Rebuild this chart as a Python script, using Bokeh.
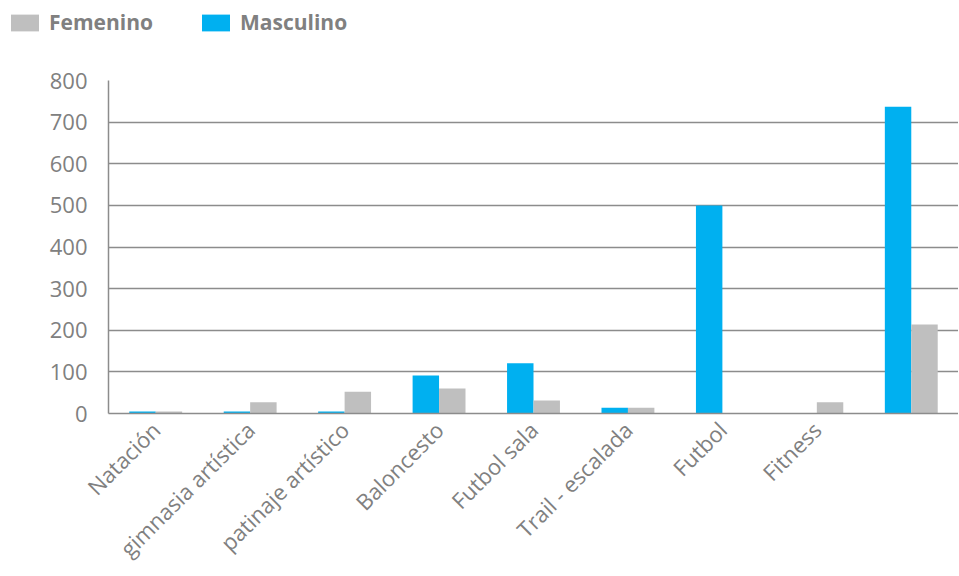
import math
from bokeh.plotting import figure
from bokeh.layouts import column
from bokeh.models import FactorRange, Range1d, Legend, LegendItem, ColumnDataSource, FixedTicker
from bokeh.transform import dodge
from bokeh.embed import file_html
from bokeh.resources import INLINE

categories = ["Natación", "gimnasia artística", "patinaje artístico", "Baloncesto",
              "Futbol sala", "Trail - escalada", "Futbol", "Fitness", " "]
masculino = [5, 5, 5, 91, 121, 14, 500, 0, 737]
femenino = [5, 27, 52, 60, 31, 14, 0, 27, 214]
y_ticks = [0, 100, 200, 300, 400, 500, 600, 700, 800]
series_names = ["Femenino", "Masculino"]

BLUE = "#00B0F0"
GREY = "#BFBFBF"
TEXT = "#808080"
LINE = "#8C8C8C"
FONT = "Open Sans"

src = ColumnDataSource(dict(cat=categories, masc=masculino, fem=femenino))

# ---- legend strip (swatch renderers sit outside the visible range) ----
lg = figure(width=958, height=45, output_backend="svg", toolbar_location=None,
            x_range=Range1d(0, 1), y_range=Range1d(0, 1),
            x_axis_type=None, y_axis_type=None,
            min_border_left=0, min_border_right=0, min_border_top=0, min_border_bottom=0)
lg.frame_align = False
lg.outline_line_color = None
lg.xgrid.grid_line_color = None
lg.ygrid.grid_line_color = None
lf = lg.vbar(x=[5], top=[5], bottom=[4], width=0.1, fill_color=GREY, line_color=None)
lm = lg.vbar(x=[5], top=[5], bottom=[4], width=0.1, fill_color=BLUE, line_color=None)
legend = Legend(items=[LegendItem(label=series_names[0], renderers=[lf]),
                       LegendItem(label=series_names[1], renderers=[lm])],
                orientation="horizontal", location=(7, 9),
                padding=0, margin=0, spacing=45,
                glyph_width=35, glyph_height=21, label_standoff=7,
                label_text_font=FONT, label_text_font_size="21px",
                label_text_font_style="bold", label_text_color=TEXT,
                border_line_color=None, background_fill_alpha=0)
lg.add_layout(legend)

# ---- main chart ----
p = figure(width=958, height=531, output_backend="svg", toolbar_location=None,
           x_range=FactorRange(factors=categories, range_padding=0),
           y_range=Range1d(0, 800),
           min_border_left=108, min_border_right=0, min_border_top=35, min_border_bottom=150)
p.frame_align = False
p.outline_line_color = None

p.vbar(x=dodge("cat", -0.14, range=p.x_range), top="masc", width=0.28,
       source=src, fill_color=BLUE, line_color=None)
p.vbar(x=dodge("cat", 0.14, range=p.x_range), top="fem", width=0.28,
       source=src, fill_color=GREY, line_color=None)

p.xgrid.grid_line_color = None
p.ygrid.grid_line_color = LINE
p.ygrid.grid_line_width = 1.5
p.ygrid.ticker = FixedTicker(ticks=y_ticks)

p.yaxis.ticker = FixedTicker(ticks=y_ticks)
for ax in (p.xaxis[0], p.yaxis[0]):
    ax.axis_line_color = LINE
    ax.axis_line_width = 1.5
    ax.major_tick_line_color = None
    ax.minor_tick_line_color = None
    ax.major_tick_in = 0
    ax.major_tick_out = 0
    ax.major_label_text_font = FONT
    ax.major_label_text_font_size = "22px"
    ax.major_label_text_color = TEXT
p.yaxis.major_label_standoff = 21
p.xaxis.major_label_standoff = 12
p.xaxis.major_label_orientation = math.pi / 4

open("out.html", "w").write(file_html(column(lg, p, spacing=0), INLINE))
